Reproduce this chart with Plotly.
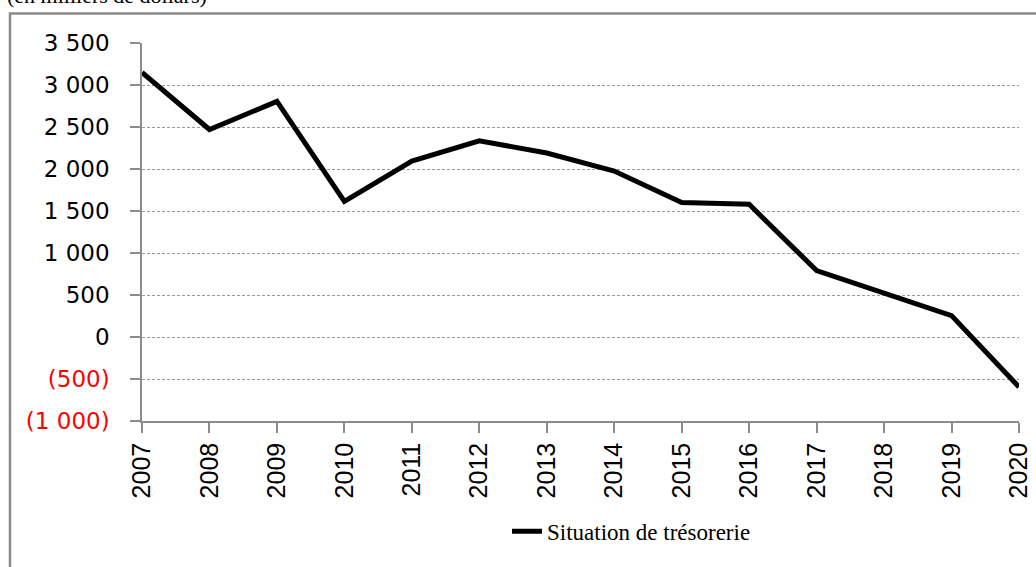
import plotly.graph_objects as go

years = [2007, 2008, 2009, 2010, 2011, 2012, 2013, 2014, 2015, 2016, 2017, 2018, 2019, 2020]
tresorerie = [3150, 2470, 2805, 1615, 2095, 2335, 2190, 1975, 1600, 1580, 790, 525, 255, -595]
series_name = "Situation de trésorerie"
title_text = "(en milliers de dollars)"
y_tickvals = [3500, 3000, 2500, 2000, 1500, 1000, 500, 0, -500, -1000]
y_ticktext = ["3 500", "3 000", "2 500", "2 000", "1 500", "1 000", "500", "0",
              '<span style="color:#ff0000">(500)</span>',
              '<span style="color:#ff0000">(1 000)</span>']
x_ticktext = [str(y) for y in years]

W, H = 1036, 567
L, R, T, B = 142, 1019, 42.5, 421.5
pw, ph = R - L, B - T

def px2paper_x(px):
    return (px - L) / pw

def px2paper_y(py):
    return (B - py) / ph

fig = go.Figure()
fig.add_trace(go.Scatter(
    x=years, y=tresorerie, mode="lines", name=series_name,
    line=dict(color="#000000", width=5), showlegend=True,
))

grid_color = "#9a9a9a"
fig.update_layout(
    width=W, height=H,
    margin=dict(l=L, r=W - R, t=T, b=H - B, pad=0, autoexpand=False),
    paper_bgcolor="white", plot_bgcolor="white",
    font=dict(family="Liberation Sans", size=24, color="#000000"),
    showlegend=True,
    legend=dict(orientation="h", x=px2paper_x(507), xanchor="left",
                y=px2paper_y(532), yanchor="middle",
                font=dict(family="Liberation Serif", size=23, color="#000000"),
                bgcolor="rgba(0,0,0,0)"),
    xaxis=dict(
        range=[2007, 2020], tickvals=years, ticktext=x_ticktext, tickangle=-90,
        automargin=False,
        showgrid=False, zeroline=False, showline=True, linecolor="#8c8c8c", linewidth=1.5,
        ticks="outside", ticklen=10, tickcolor="#8c8c8c", tickwidth=1.5,
        tickfont=dict(family="Liberation Sans", size=25, color="#000000"),
    ),
    yaxis=dict(
        range=[-1000, 3500], tickvals=y_tickvals, ticktext=y_ticktext,
        automargin=False,
        showgrid=True, gridcolor=grid_color, gridwidth=1, griddash="3px,2px",
        zeroline=False, showline=True, linecolor="#8c8c8c", linewidth=1.5,
        ticks="outside", ticklen=10, tickcolor="#8c8c8c", tickwidth=1.5,
        ticklabelstandoff=16,
        tickfont=dict(family="DejaVu Sans", size=23, color="#000000"),
    ),
    annotations=[dict(
        text=title_text, xref="paper", yref="paper",
        x=px2paper_x(5), y=px2paper_y(9.5), xanchor="left", yanchor="bottom",
        showarrow=False, font=dict(family="Liberation Serif", size=22, color="#000000"),
    )],
    shapes=[dict(
        type="rect", xref="paper", yref="paper",
        x0=px2paper_x(10), x1=px2paper_x(1045), y0=px2paper_y(580), y1=px2paper_y(13),
        line=dict(color="#8a8a8a", width=2.5), fillcolor="rgba(0,0,0,0)", layer="below",
    )],
)

fig.write_html("out.html", config={"displayModeBar": False},
               post_script="document.body.style.margin='0';document.body.style.overflow='hidden';")
